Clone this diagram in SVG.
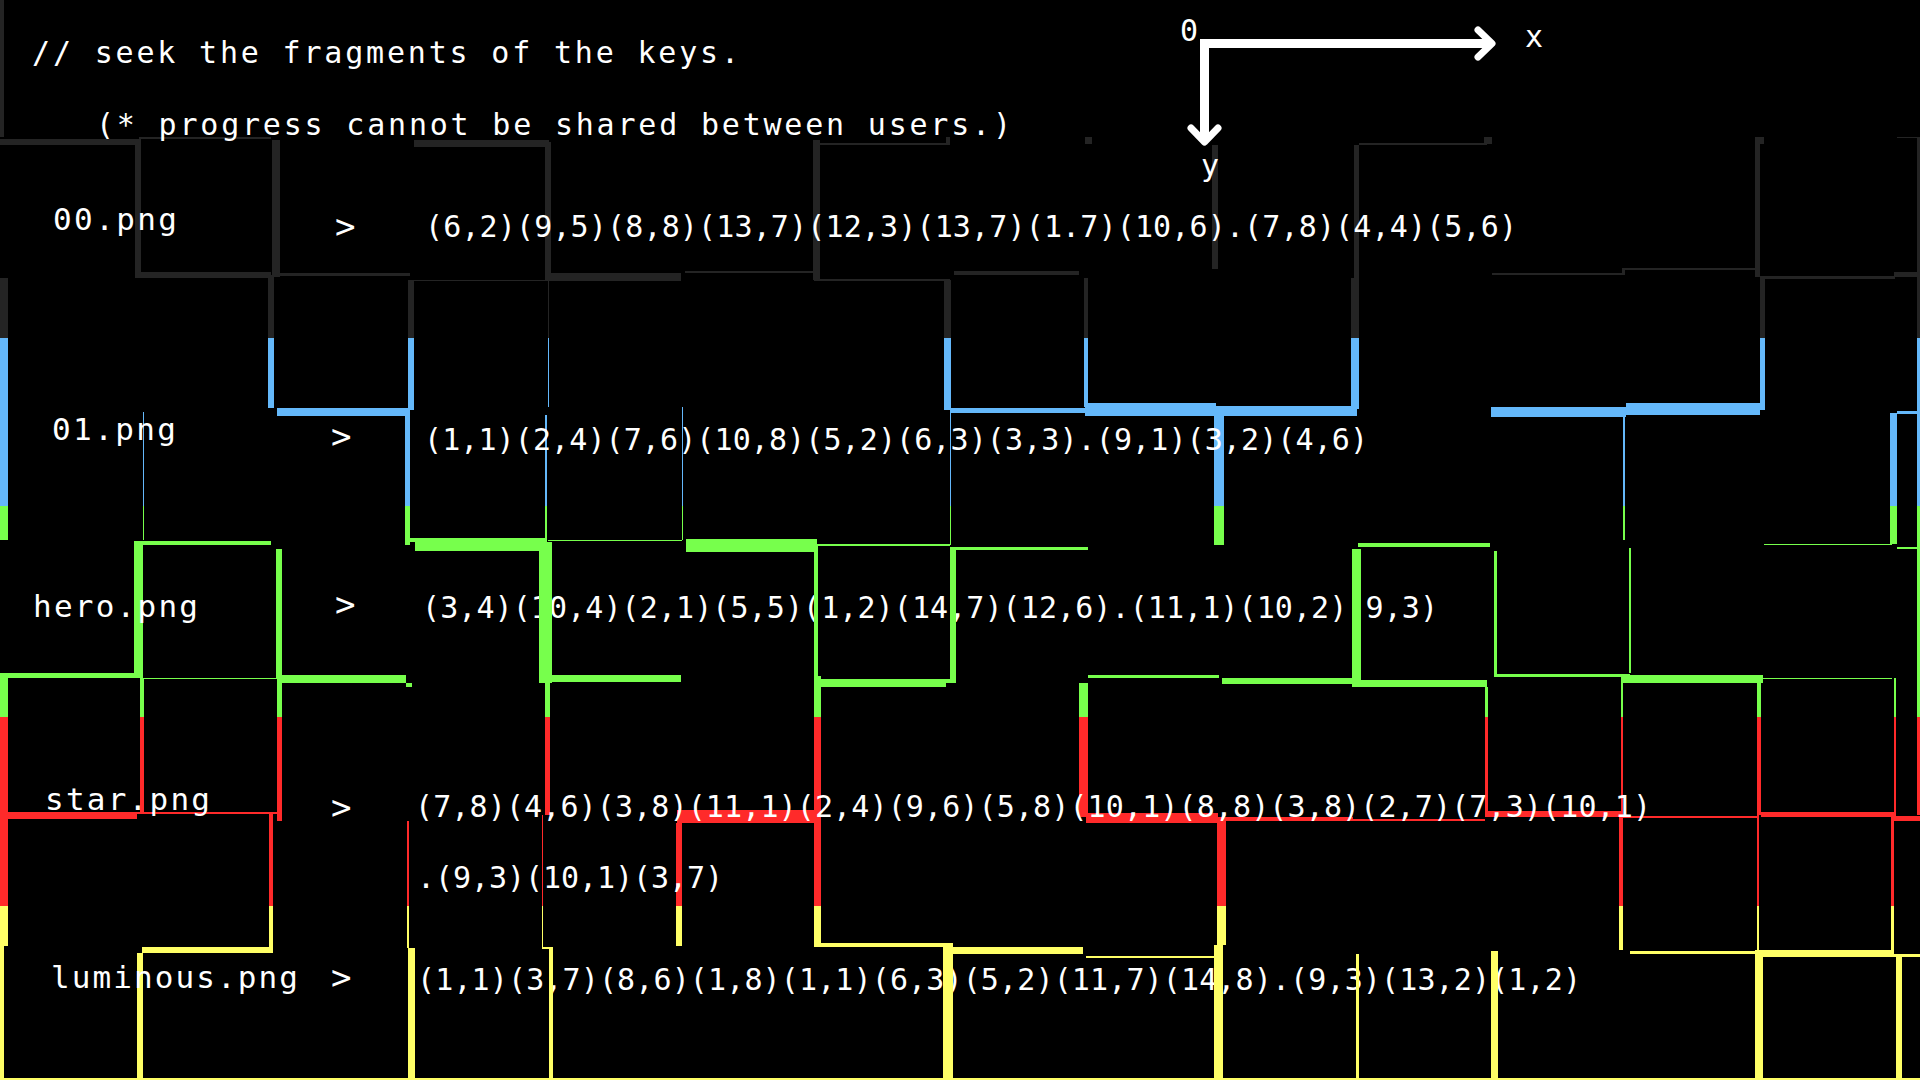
<svg xmlns="http://www.w3.org/2000/svg" xmlns:xlink="http://www.w3.org/1999/xlink" width="1920" height="1080" viewBox="0 0 1920 1080">
<defs>
<linearGradient id="band" gradientUnits="userSpaceOnUse" x1="0" y1="0" x2="0" y2="1080">
<stop offset="0" stop-color="#242424"/>
<stop offset="0.3130" stop-color="#242424"/>
<stop offset="0.3130" stop-color="#64b8fa"/>
<stop offset="0.4685" stop-color="#64b8fa"/>
<stop offset="0.4685" stop-color="#77ff4c"/>
<stop offset="0.6639" stop-color="#77ff4c"/>
<stop offset="0.6639" stop-color="#ff2a2a"/>
<stop offset="0.8389" stop-color="#ff2a2a"/>
<stop offset="0.8389" stop-color="#ffff66"/>
<stop offset="1" stop-color="#ffff66"/>
</linearGradient>
<clipPath id="overTop">
<rect x="330" y="506" width="1590" height="211"/>
<rect x="330" y="906" width="1590" height="174"/>
</clipPath>
</defs>
<style>
.ln rect{fill:url(#band)}
.t{font-family:'DejaVu Sans Mono','Liberation Mono',monospace;fill:#ffffff}
.h{font-size:30px}
.lb{font-size:31px}
.c{font-size:30px}
.gt{font-size:34px}
.ax{fill:none;stroke:#ffffff}
</style>
<rect x="0" y="0" width="1920" height="1080" fill="#000000"/>

<g id="connectors" class="ln">
<!-- verticals -->
<rect x="0" y="0" width="4" height="137"/>
<rect x="135" y="139" width="6" height="138"/>
<rect x="272" y="140" width="8" height="137"/>
<rect x="545" y="142" width="6" height="138"/>
<rect x="813" y="140" width="7" height="140"/>
<rect x="1212" y="145" width="6" height="124"/>
<rect x="1354" y="145" width="5" height="133"/>
<rect x="1755" y="137" width="9" height="7"/>
<rect x="1755" y="143" width="5" height="134"/>
<rect x="1917" y="137" width="3" height="678"/>
<rect x="0" y="278" width="8" height="262"/>
<rect x="268" y="275" width="6" height="133"/>
<rect x="408" y="280" width="6" height="130"/>
<rect x="405" y="412" width="5" height="133"/>
<rect x="548" y="280" width="1" height="127"/>
<rect x="545" y="415" width="2" height="125"/>
<rect x="944" y="280" width="7" height="130"/>
<rect x="1084" y="278" width="4" height="129"/>
<rect x="1351" y="278" width="8" height="131"/>
<rect x="1760" y="277" width="5" height="133"/>
<rect x="143" y="412" width="1" height="128"/>
<rect x="682" y="407" width="1" height="133"/>
<rect x="950" y="413" width="1" height="132"/>
<rect x="1214" y="416" width="10" height="129"/>
<rect x="1623" y="415" width="2" height="125"/>
<rect x="1890" y="413" width="7" height="131"/>
<rect x="134" y="541" width="9" height="137"/>
<rect x="276" y="549" width="6" height="129"/>
<rect x="539" y="542" width="13" height="141"/>
<rect x="814" y="545" width="4" height="131"/>
<rect x="950" y="547" width="6" height="136"/>
<rect x="1352" y="549" width="9" height="138"/>
<rect x="1494" y="551" width="3" height="126"/>
<rect x="1629" y="548" width="2" height="125"/>
<rect x="0" y="678" width="8" height="268"/>
<rect x="0" y="946" width="4" height="134"/>
<rect x="140" y="678" width="4" height="134"/>
<rect x="277" y="678" width="5" height="143"/>
<rect x="545" y="683" width="5" height="132"/>
<rect x="814" y="676" width="7" height="271"/>
<rect x="1079" y="683" width="9" height="134"/>
<rect x="1485" y="687" width="3" height="126"/>
<rect x="1621" y="677" width="2" height="140"/>
<rect x="1757" y="683" width="4" height="132"/>
<rect x="1894" y="678" width="2" height="139"/>
<rect x="269" y="814" width="4" height="136"/>
<rect x="407" y="821" width="2" height="127"/>
<rect x="542" y="815" width="1" height="133"/>
<rect x="676" y="823" width="6" height="123"/>
<rect x="1217" y="818" width="9" height="127"/>
<rect x="1214" y="945" width="9" height="135"/>
<rect x="1619" y="817" width="4" height="133"/>
<rect x="1757" y="815" width="2" height="135"/>
<rect x="1891" y="817" width="3" height="136"/>
<rect x="137" y="953" width="6" height="127"/>
<rect x="408" y="948" width="7" height="132"/>
<rect x="549" y="948" width="4" height="132"/>
<rect x="943" y="947" width="10" height="133"/>
<rect x="1356" y="954" width="3" height="126"/>
<rect x="1491" y="951" width="7" height="129"/>
<rect x="1755" y="953" width="8" height="127"/>
<rect x="1896" y="957" width="6" height="123"/>
<!-- horizontals row 0 -->
<rect x="0" y="139" width="135" height="6"/>
<rect x="139" y="137" width="132" height="2"/>
<rect x="414" y="140" width="135" height="7"/>
<rect x="814" y="143" width="136" height="2"/>
<rect x="946" y="137" width="4" height="7"/>
<rect x="1085" y="137" width="7" height="7"/>
<rect x="1359" y="143" width="128" height="2"/>
<rect x="1484" y="137" width="8" height="7"/>
<rect x="1897" y="137" width="23" height="1"/>
<!-- row 1 -->
<rect x="135" y="272" width="136" height="6"/>
<rect x="274" y="273" width="136" height="3"/>
<rect x="412" y="280" width="136" height="1"/>
<rect x="548" y="273" width="133" height="8"/>
<rect x="685" y="271" width="129" height="2"/>
<rect x="814" y="279" width="136" height="2"/>
<rect x="954" y="271" width="125" height="4"/>
<rect x="1492" y="273" width="131" height="2"/>
<rect x="1622" y="268" width="3" height="7"/>
<rect x="1623" y="268" width="136" height="2"/>
<rect x="1760" y="276" width="135" height="3"/>
<rect x="1894" y="272" width="26" height="5"/>
<!-- row 2 -->
<rect x="277" y="408" width="133" height="8"/>
<rect x="950" y="408" width="136" height="5"/>
<rect x="1085" y="403" width="131" height="13"/>
<rect x="1216" y="406" width="141" height="10"/>
<rect x="1491" y="407" width="135" height="10"/>
<rect x="1626" y="403" width="134" height="12"/>
<rect x="1897" y="411" width="23" height="3"/>
<!-- row 3 -->
<rect x="134" y="541" width="137" height="4"/>
<rect x="405" y="538" width="142" height="4"/>
<rect x="415" y="541" width="130" height="10"/>
<rect x="548" y="540" width="134" height="1"/>
<rect x="686" y="539" width="131" height="13"/>
<rect x="817" y="544" width="133" height="2"/>
<rect x="953" y="547" width="135" height="3"/>
<rect x="1358" y="543" width="132" height="4"/>
<rect x="1764" y="544" width="128" height="1"/>
<rect x="1897" y="547" width="23" height="2"/>
<!-- row 4 -->
<rect x="0" y="673" width="141" height="5"/>
<rect x="143" y="678" width="134" height="1"/>
<rect x="282" y="675" width="124" height="8"/>
<rect x="406" y="683" width="6" height="4"/>
<rect x="550" y="675" width="131" height="7"/>
<rect x="818" y="679" width="128" height="8"/>
<rect x="946" y="679" width="8" height="4"/>
<rect x="1088" y="675" width="131" height="3"/>
<rect x="1222" y="678" width="130" height="6"/>
<rect x="1352" y="680" width="135" height="7"/>
<rect x="1494" y="674" width="136" height="3"/>
<rect x="1622" y="675" width="141" height="8"/>
<rect x="1761" y="678" width="131" height="1"/>
<!-- row 5 -->
<rect x="0" y="812" width="137" height="7"/>
<rect x="137" y="812" width="140" height="2"/>
<rect x="677" y="810" width="141" height="13"/>
<rect x="1086" y="813" width="132" height="10"/>
<rect x="1218" y="817" width="135" height="4"/>
<rect x="1353" y="819" width="132" height="2"/>
<rect x="1485" y="811" width="137" height="6"/>
<rect x="1622" y="816" width="135" height="2"/>
<rect x="1761" y="812" width="133" height="5"/>
<rect x="1894" y="816" width="26" height="5"/>
<!-- row 6 -->
<rect x="142" y="947" width="131" height="6"/>
<rect x="542" y="947" width="11" height="2"/>
<rect x="818" y="943" width="135" height="4"/>
<rect x="953" y="947" width="130" height="7"/>
<rect x="1086" y="956" width="130" height="2"/>
<rect x="1630" y="951" width="125" height="3"/>
<rect x="1755" y="950" width="139" height="7"/>
<rect x="1894" y="954" width="26" height="3"/>
<!-- row 7 -->
<rect x="0" y="1078" width="1920" height="2"/>
</g>

<g id="texts">
<g id="header">
<text class="t h" x="32" y="63" textLength="707" lengthAdjust="spacing">// seek the fragments of the keys.</text>
<text class="t h" x="96" y="135" textLength="915" lengthAdjust="spacing">(* progress cannot be shared between users.)</text>
</g>
<g id="row-00">
<text class="t lb" x="53" y="230" textLength="124" lengthAdjust="spacing">00.png</text>
<text class="t gt" x="335" y="238">&gt;</text>
<text class="t c" x="425" y="237" textLength="1092" lengthAdjust="spacing">(6,2)(9,5)(8,8)(13,7)(12,3)(13,7)(1.7)(10,6).(7,8)(4,4)(5,6)</text>
</g>
<g id="row-01">
<text class="t lb" x="52" y="440" textLength="124" lengthAdjust="spacing">01.png</text>
<text class="t gt" x="331" y="448">&gt;</text>
<text class="t c" x="424" y="450" textLength="944" lengthAdjust="spacing">(1,1)(2,4)(7,6)(10,8)(5,2)(6,3)(3,3).(9,1)(3,2)(4,6)</text>
</g>
<g id="row-hero">
<text class="t lb" x="33" y="617" textLength="165" lengthAdjust="spacing">hero.png</text>
<text class="t gt" x="335" y="616">&gt;</text>
<text class="t c" x="422" y="618" textLength="1016" lengthAdjust="spacing">(3,4)(10,4)(2,1)(5,5)(1,2)(14,7)(12,6).(11,1)(10,2)(9,3)</text>
</g>
<g id="row-star">
<text class="t lb" x="45" y="810" textLength="165" lengthAdjust="spacing">star.png</text>
<text class="t gt" x="331" y="819">&gt;</text>
<text class="t c" x="415" y="817" textLength="1236" lengthAdjust="spacing">(7,8)(4,6)(3,8)(11,1)(2,4)(9,6)(5,8)(10,1)(8,8)(3,8)(2,7)(7,3)(10,1)</text>
<text class="t c" x="417" y="888" textLength="306" lengthAdjust="spacing">.(9,3)(10,1)(3,7)</text>
</g>
<g id="row-luminous">
<text class="t lb" x="51" y="988" textLength="247" lengthAdjust="spacing">luminous.png</text>
<text class="t gt" x="331" y="989">&gt;</text>
<text class="t c" x="417" y="990" textLength="1164" lengthAdjust="spacing">(1,1)(3,7)(8,6)(1,8)(1,1)(6,3)(5,2)(11,7)(14,8).(9,3)(13,2)(1,2)</text>
</g>
</g>

<use id="connectors-over" xlink:href="#connectors" href="#connectors" clip-path="url(#overTop)"/>

<g id="axes">
<polyline class="ax" points="1204.5,140 1204.5,43.5 1491,43.5" stroke-width="9" stroke-linejoin="miter"/>
<polyline class="ax" points="1478,30 1492,43.5 1478,57" stroke-width="7" stroke-linecap="round" stroke-linejoin="round"/>
<polyline class="ax" points="1191,128 1204.5,142 1218,128" stroke-width="7" stroke-linecap="round" stroke-linejoin="round"/>
<text class="t c" x="1180" y="41">0</text>
<text class="t c" x="1525" y="47">x</text>
<text class="t c" x="1201" y="176">y</text>
</g>
</svg>
